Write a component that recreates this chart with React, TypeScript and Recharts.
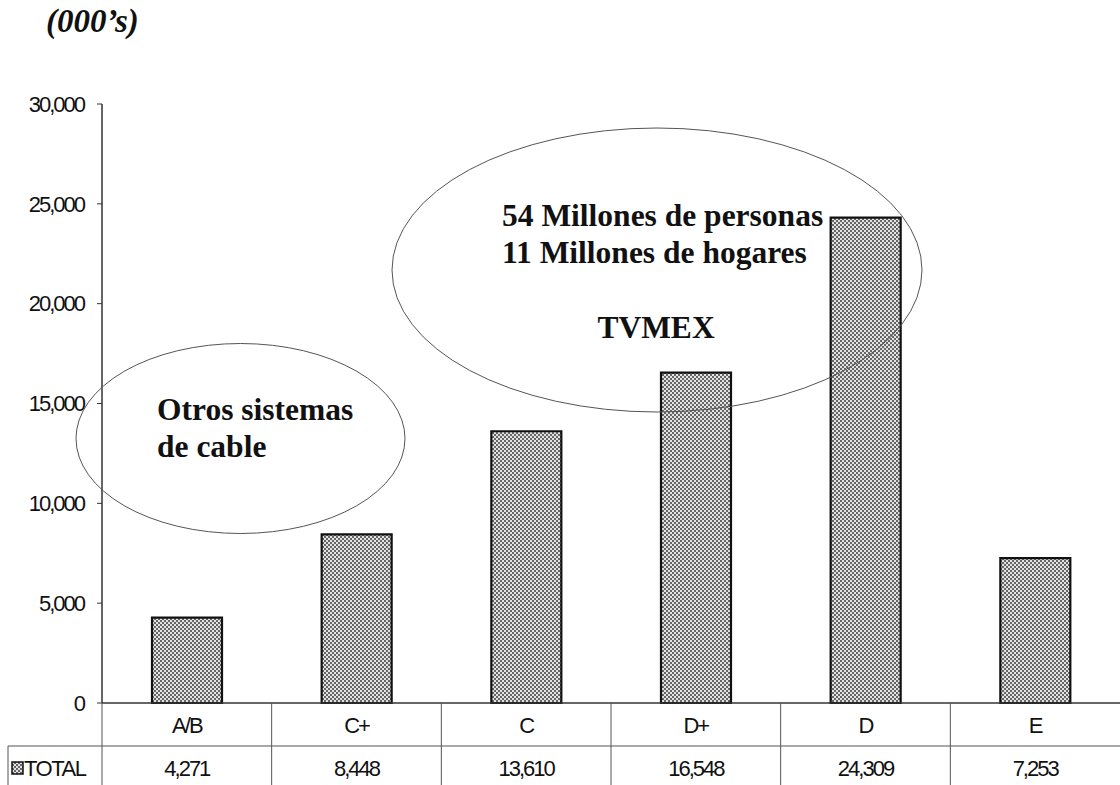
import React from "react"
import { BarChart, Bar, XAxis, YAxis } from "recharts"

const categories = ["A/B", "C+", "C", "D+", "D", "E"]
const totals = [4271, 8448, 13610, 16548, 24309, 7253]
const yTicks = [0, 5000, 10000, 15000, 20000, 25000, 30000]
const seriesName = "TOTAL"
const unitLabel = "(000’s)"
const bigNote = ["54 Millones de personas", "11 Millones de hogares"]
const bigNoteTitle = "TVMEX"
const smallNote = ["Otros sistemas", "de cable"]

const data = categories.map((cat, i) => ({ cat, total: totals[i] }))

const W = 1120
const H = 785
const TOP = 104
const Y_W = 102
const X_H = 82
const PLOT_BOTTOM = H - X_H
const CELL_W = (W - Y_W) / categories.length
const SANS = "'Liberation Sans', Arial, sans-serif"
const SERIF = "'Liberation Serif', 'Times New Roman', serif"
const fmt = (v: number) => v.toLocaleString("en-US")

function DotPattern({ id }: { id: string }) {
  return (
    <pattern id={id} patternUnits="userSpaceOnUse" width={4} height={4}>
      <rect width={4} height={4} fill="#e2e2e2" />
      <rect x={0} y={0} width={2} height={2} fill="#666" />
      <rect x={2} y={2} width={2} height={2} fill="#666" />
    </pattern>
  )
}

function TableTick(props: any) {
  const { x, payload } = props
  const i = categories.indexOf(payload.value)
  const left = x - CELL_W / 2
  return (
    <g>
      <line x1={left} y1={PLOT_BOTTOM} x2={left} y2={H} stroke="#555" strokeWidth={1} />
      <text x={x} y={733} textAnchor="middle" fontFamily={SANS} fontSize={22} letterSpacing={-2} fill="#111">
        {payload.value}
      </text>
      <text x={x} y={776} textAnchor="middle" fontFamily={SANS} fontSize={22} letterSpacing={-2} fill="#111">
        {fmt(totals[i])}
      </text>
    </g>
  )
}

export default function App() {
  return (
    <div style={{ position: "absolute", left: 0, top: 0, width: W, height: H, background: "#fff", overflow: "hidden" }}>
      <BarChart width={W} height={H} data={data} margin={{ top: TOP, right: 0, left: 0, bottom: 0 }} barSize={70}>
        <defs>
          <DotPattern id="dots" />
        </defs>
        <XAxis
          dataKey="cat"
          height={X_H}
          axisLine={{ stroke: "#333", strokeWidth: 1.5 }}
          tickLine={false}
          tick={<TableTick />}
          interval={0}
        />
        <YAxis
          width={Y_W}
          domain={[0, 30000]}
          ticks={yTicks}
          interval={0}
          tickFormatter={fmt}
          axisLine={{ stroke: "#333", strokeWidth: 1.5 }}
          tickLine={{ stroke: "#333" }}
          tickSize={5}
          tickMargin={13}
          tick={{ fontSize: 22, fill: "#111", fontFamily: SANS, letterSpacing: -2 }}
        />
        <Bar dataKey="total" name={seriesName} fill="url(#dots)" stroke="#111" strokeWidth={2.2} isAnimationActive={false} />
      </BarChart>
      <svg width={W} height={H} style={{ position: "absolute", left: 0, top: 0, pointerEvents: "none" }}>
        <defs>
          <DotPattern id="dots2" />
        </defs>
        <text x={46} y={32} fontFamily={SERIF} fontStyle="italic" fontWeight="bold" fontSize={33} fill="#111">
          {unitLabel}
        </text>
        <ellipse cx={657} cy={270} rx={265} ry={142} fill="none" stroke="#555" strokeWidth={1} />
        <ellipse cx={240.5} cy={438.5} rx={164.5} ry={95} fill="none" stroke="#555" strokeWidth={1} />
        <g fontFamily={SERIF} fontWeight="bold" fontSize={31.5} fill="#111">
          <text x={502} y={226}>{bigNote[0]}</text>
          <text x={502} y={263}>{bigNote[1]}</text>
          <text x={656} y={338} textAnchor="middle">{bigNoteTitle}</text>
          <text x={157} y={420}>{smallNote[0]}</text>
          <text x={157} y={457}>{smallNote[1]}</text>
        </g>
        <line x1={8} y1={746} x2={W} y2={746} stroke="#555" strokeWidth={1} />
        <line x1={8} y1={746} x2={8} y2={H} stroke="#555" strokeWidth={1} />
        <rect x={12} y={762} width={11} height={12} fill="url(#dots2)" stroke="#111" strokeWidth={1.5} />
        <text x={24} y={776} fontFamily={SANS} fontSize={22} letterSpacing={-1.5} fill="#111">
          {seriesName}
        </text>
      </svg>
    </div>
  )
}
